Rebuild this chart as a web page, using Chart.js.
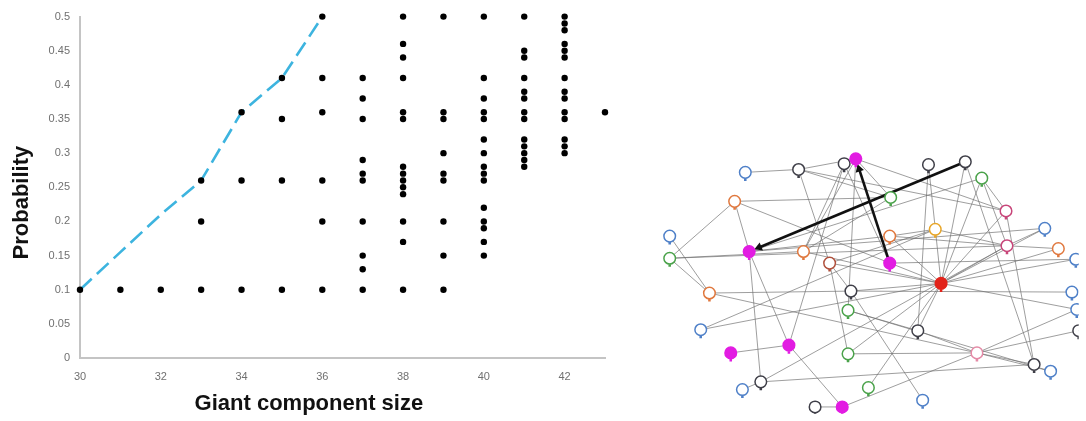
<!DOCTYPE html>
<html>
<head>
<meta charset="utf-8">
<script src="https://cdn.jsdelivr.net/npm/chart.js@4.4.1/dist/chart.umd.min.js"></script>
<style>
  html, body { margin: 0; padding: 0; background: #fff; }
  #left { position: absolute; left: 0; top: 0; width: 612px; height: 421px; }
  #right { position: absolute; left: 612px; top: 0; width: 474px; height: 421px; }
</style>
</head>
<body>
<div id="left"><canvas id="scatterCanva"></canvas></div>
<div id="right"><canvas id="networkCanva"></canvas></div>
<script>
//Scatter data: one list of probabilities per giant component size
var sizes = [30, 31, 32, 33, 34, 35, 36, 37, 38, 39, 40, 41, 42, 43];
var probs = [
    [0.1],
    [0.1],
    [0.1],
    [0.1, 0.2, 0.26],
    [0.1, 0.26, 0.36],
    [0.1, 0.26, 0.35, 0.41],
    [0.1, 0.2, 0.26, 0.36, 0.41, 0.5],
    [0.1, 0.13, 0.15, 0.2, 0.26, 0.27, 0.29, 0.35, 0.38, 0.41],
    [0.1, 0.17, 0.2, 0.24, 0.25, 0.26, 0.27, 0.28, 0.35, 0.36, 0.41, 0.44, 0.46, 0.5],
    [0.1, 0.15, 0.2, 0.26, 0.27, 0.3, 0.35, 0.36, 0.5],
    [0.15, 0.17, 0.19, 0.2, 0.22, 0.26, 0.27, 0.28, 0.3, 0.32, 0.35, 0.36, 0.38, 0.41, 0.5],
    [0.28, 0.29, 0.3, 0.31, 0.32, 0.35, 0.36, 0.38, 0.39, 0.41, 0.44, 0.45, 0.5],
    [0.3, 0.31, 0.32, 0.35, 0.36, 0.38, 0.39, 0.41, 0.44, 0.45, 0.46, 0.48, 0.49, 0.5],
    [0.36]
];

//Dashed curve
var curveSizes = [30, 31, 32, 33, 34, 35, 36];
var curveProbs = [0.1, 0.155, 0.21, 0.26, 0.36, 0.41, 0.5];

//Tick labels
var xTicks = [30, 32, 34, 36, 38, 40, 42];
var yTicks = [0, 0.05, 0.1, 0.15, 0.2, 0.25, 0.3, 0.35, 0.4, 0.45, 0.5];
var yTickLabels = ['0', '0.05', '0.1', '0.15', '0.2', '0.25', '0.3', '0.35', '0.4', '0.45', '0.5'];

//Network: node positions, colour key
var nodeX = [742, 797, 844, 856, 931, 969, 986, 892, 1011, 731, 938, 891, 891, 1012, 1051, 1065, 1083, 664, 664, 746, 802, 829, 944, 705, 851, 848, 696, 727, 787, 848, 758, 739, 814, 842, 920, 981, 1040, 1057, 869, 925, 1079, 1084, 1086];
var nodeY = [171, 168, 162, 157, 163, 160, 177, 197, 211, 201, 230, 237, 265, 247, 229, 250, 261, 237, 260, 253, 253, 265, 286, 296, 294, 314, 334, 358, 350, 359, 388, 396, 414, 414, 335, 358, 370, 377, 394, 407, 295, 313, 335];
var nodeKind = ['blue', 'dark', 'dark', 'magenta', 'dark', 'dark', 'green', 'green', 'pink', 'orange', 'yellow', 'orange', 'magenta', 'pink', 'blue', 'orange', 'blue', 'blue', 'green', 'magenta', 'orange', 'brown', 'red', 'orange', 'dark', 'green', 'blue', 'magenta', 'magenta', 'green', 'dark', 'blue', 'dark', 'magenta', 'dark', 'rose', 'dark', 'blue', 'green', 'blue', 'blue', 'blue', 'dark'];
var edges = [
    [0, 1], [1, 3], [1, 21], [1, 8], [1, 7], [2, 3], [2, 20], [2, 28], [3, 7], [3, 25], [8, 3],
    [9, 7], [9, 19], [9, 18], [17, 23], [18, 20], [18, 13], [19, 11], [19, 28], [20, 22], [20, 3],
    [21, 24], [21, 29], [22, 5], [22, 4], [22, 6], [22, 8], [22, 11], [22, 13], [22, 15], [22, 21],
    [22, 24], [22, 29], [22, 34], [22, 38], [22, 16], [22, 41], [22, 14], [23, 24], [23, 35], [23, 18],
    [26, 10], [27, 28], [28, 33], [30, 31], [30, 36], [30, 13], [30, 19], [32, 33], [33, 35], [25, 34],
    [34, 35], [35, 36], [35, 37], [35, 41], [35, 42], [36, 8], [39, 24], [24, 40], [6, 8], [6, 13],
    [6, 19], [10, 13], [10, 11], [11, 13], [12, 16], [13, 14], [13, 15], [21, 10], [26, 22],
    [2, 12], [4, 34], [5, 36], [7, 20], [9, 22], [19, 14], [25, 37], [29, 35]
];
var arrows = [[5, 19], [12, 3]];

var kindColors = {
    blue: '#4f80c8', dark: '#3f3f48', green: '#4aa24a', orange: '#e0783e', pink: '#c8467a',
    rose: '#e48aa6', yellow: '#e8a628', brown: '#b0503c', magenta: '#e21ce2', red: '#e2231a'
};
var filledKinds = ['magenta', 'red'];

//Create scatter chart
var points = [];
sizes.forEach(function (s, i) {
    probs[i].forEach(function (p) { points.push({ x: s, y: p }); });
});

var font = 'Liberation Sans, Arial, sans-serif';

new Chart(document.getElementById('scatterCanva').getContext('2d'), {
    type: 'scatter',
    data: {
        datasets: [
            {
                data: points,
                backgroundColor: '#000',
                borderColor: '#000',
                pointRadius: 3.2,
                pointBorderWidth: 0,
                clip: false
            },
            {
                type: 'line',
                data: curveSizes.map(function (s, i) { return { x: s, y: curveProbs[i] }; }),
                borderColor: '#3db4df',
                borderWidth: 2.6,
                borderDash: [16, 7],
                pointRadius: 0,
                fill: false,
                clip: false
            }
        ]
    },
    options: {
        responsive: true,
        maintainAspectRatio: false,
        animation: false,
        layout: { padding: { top: 15, right: 7, left: 0, bottom: 0 } },
        plugins: { legend: { display: false }, tooltip: { enabled: false } },
        scales: {
            x: {
                type: 'linear',
                min: 30,
                max: 43,
                afterBuildTicks: function (s) { s.ticks = xTicks.map(function (v) { return { value: v }; }); },
                afterFit: function (s) { s.height = 63; },
                grid: { display: false, drawTicks: false },
                border: { display: true, color: '#c4c4c4', width: 2 },
                ticks: { padding: 12, color: '#707070', maxRotation: 0, font: { family: font, size: 11 } },
                // trailing spaces nudge the centred title left, as in the source
                title: { display: true, text: 'Giant component size           ', color: '#111', padding: { top: 0, bottom: 4 }, font: { family: font, size: 22, weight: 'bold' } }
            },
            y: {
                min: 0,
                max: 0.5,
                afterBuildTicks: function (s) { s.ticks = yTicks.map(function (v) { return { value: v }; }); },
                afterFit: function (s) { s.width = 80; },
                grid: { display: false, drawTicks: false },
                border: { display: true, color: '#c4c4c4', width: 2 },
                ticks: {
                    padding: 10, color: '#707070', font: { family: font, size: 11 },
                    callback: function (v, i) { return yTickLabels[i]; }
                },
                title: { display: true, text: 'Probability     ', color: '#111', padding: { top: 9, bottom: 0 }, font: { family: font, size: 22, weight: 'bold' } }
            }
        }
    }
});

//Create network chart
var netSets = [];

netSets.push({
    order: 0,
    data: nodeX.map(function (x, i) { return { x: x, y: nodeY[i] }; }),
    pointRadius: 5.8,
    pointBorderWidth: 1.5,
    pointBorderColor: nodeKind.map(function (k) { return kindColors[k]; }),
    pointBackgroundColor: nodeKind.map(function (k) { return filledKinds.indexOf(k) >= 0 ? kindColors[k] : '#fff'; })
});

// small stems under the nodes
netSets.push({
    order: 1,
    data: nodeX.map(function (x, i) { return { x: x, y: nodeY[i] + 7.5 }; }),
    pointStyle: 'rect',
    pointRadius: 1.8,
    pointBorderWidth: 0,
    pointBackgroundColor: nodeKind.map(function (k) { return kindColors[k]; })
});

arrows.forEach(function (a) {
    var x0 = nodeX[a[0]], y0 = nodeY[a[0]], x1 = nodeX[a[1]], y1 = nodeY[a[1]];
    var ang = Math.atan2(y1 - y0, x1 - x0);
    var len = Math.sqrt((x1 - x0) * (x1 - x0) + (y1 - y0) * (y1 - y0));
    var hx = x0 + (x1 - x0) * (len - 11) / len, hy = y0 + (y1 - y0) * (len - 11) / len;
    netSets.push({
        order: 1,
        showLine: true,
        data: [{ x: x0, y: y0 }, { x: hx, y: hy }],
        borderColor: '#111',
        borderWidth: 2.6,
        pointRadius: [0, 5],
        pointStyle: 'triangle',
        pointRotation: ang * 180 / Math.PI + 90,
        pointBackgroundColor: '#111',
        pointBorderWidth: 0
    });
});

edges.forEach(function (e) {
    netSets.push({
        order: 2,
        showLine: true,
        data: [{ x: nodeX[e[0]], y: nodeY[e[0]] }, { x: nodeX[e[1]], y: nodeY[e[1]] }],
        borderColor: 'rgba(110,110,110,0.75)',
        borderWidth: 0.9,
        pointRadius: 0
    });
});

new Chart(document.getElementById('networkCanva').getContext('2d'), {
    type: 'scatter',
    data: { datasets: netSets },
    options: {
        responsive: true,
        maintainAspectRatio: false,
        animation: false,
        layout: { padding: 0 },
        plugins: { legend: { display: false }, tooltip: { enabled: false } },
        scales: {
            x: { type: 'linear', display: false, min: 612, max: 1086 },
            y: { type: 'linear', display: false, min: 0, max: 421, reverse: true }
        }
    }
});
</script>
</body>
</html>
